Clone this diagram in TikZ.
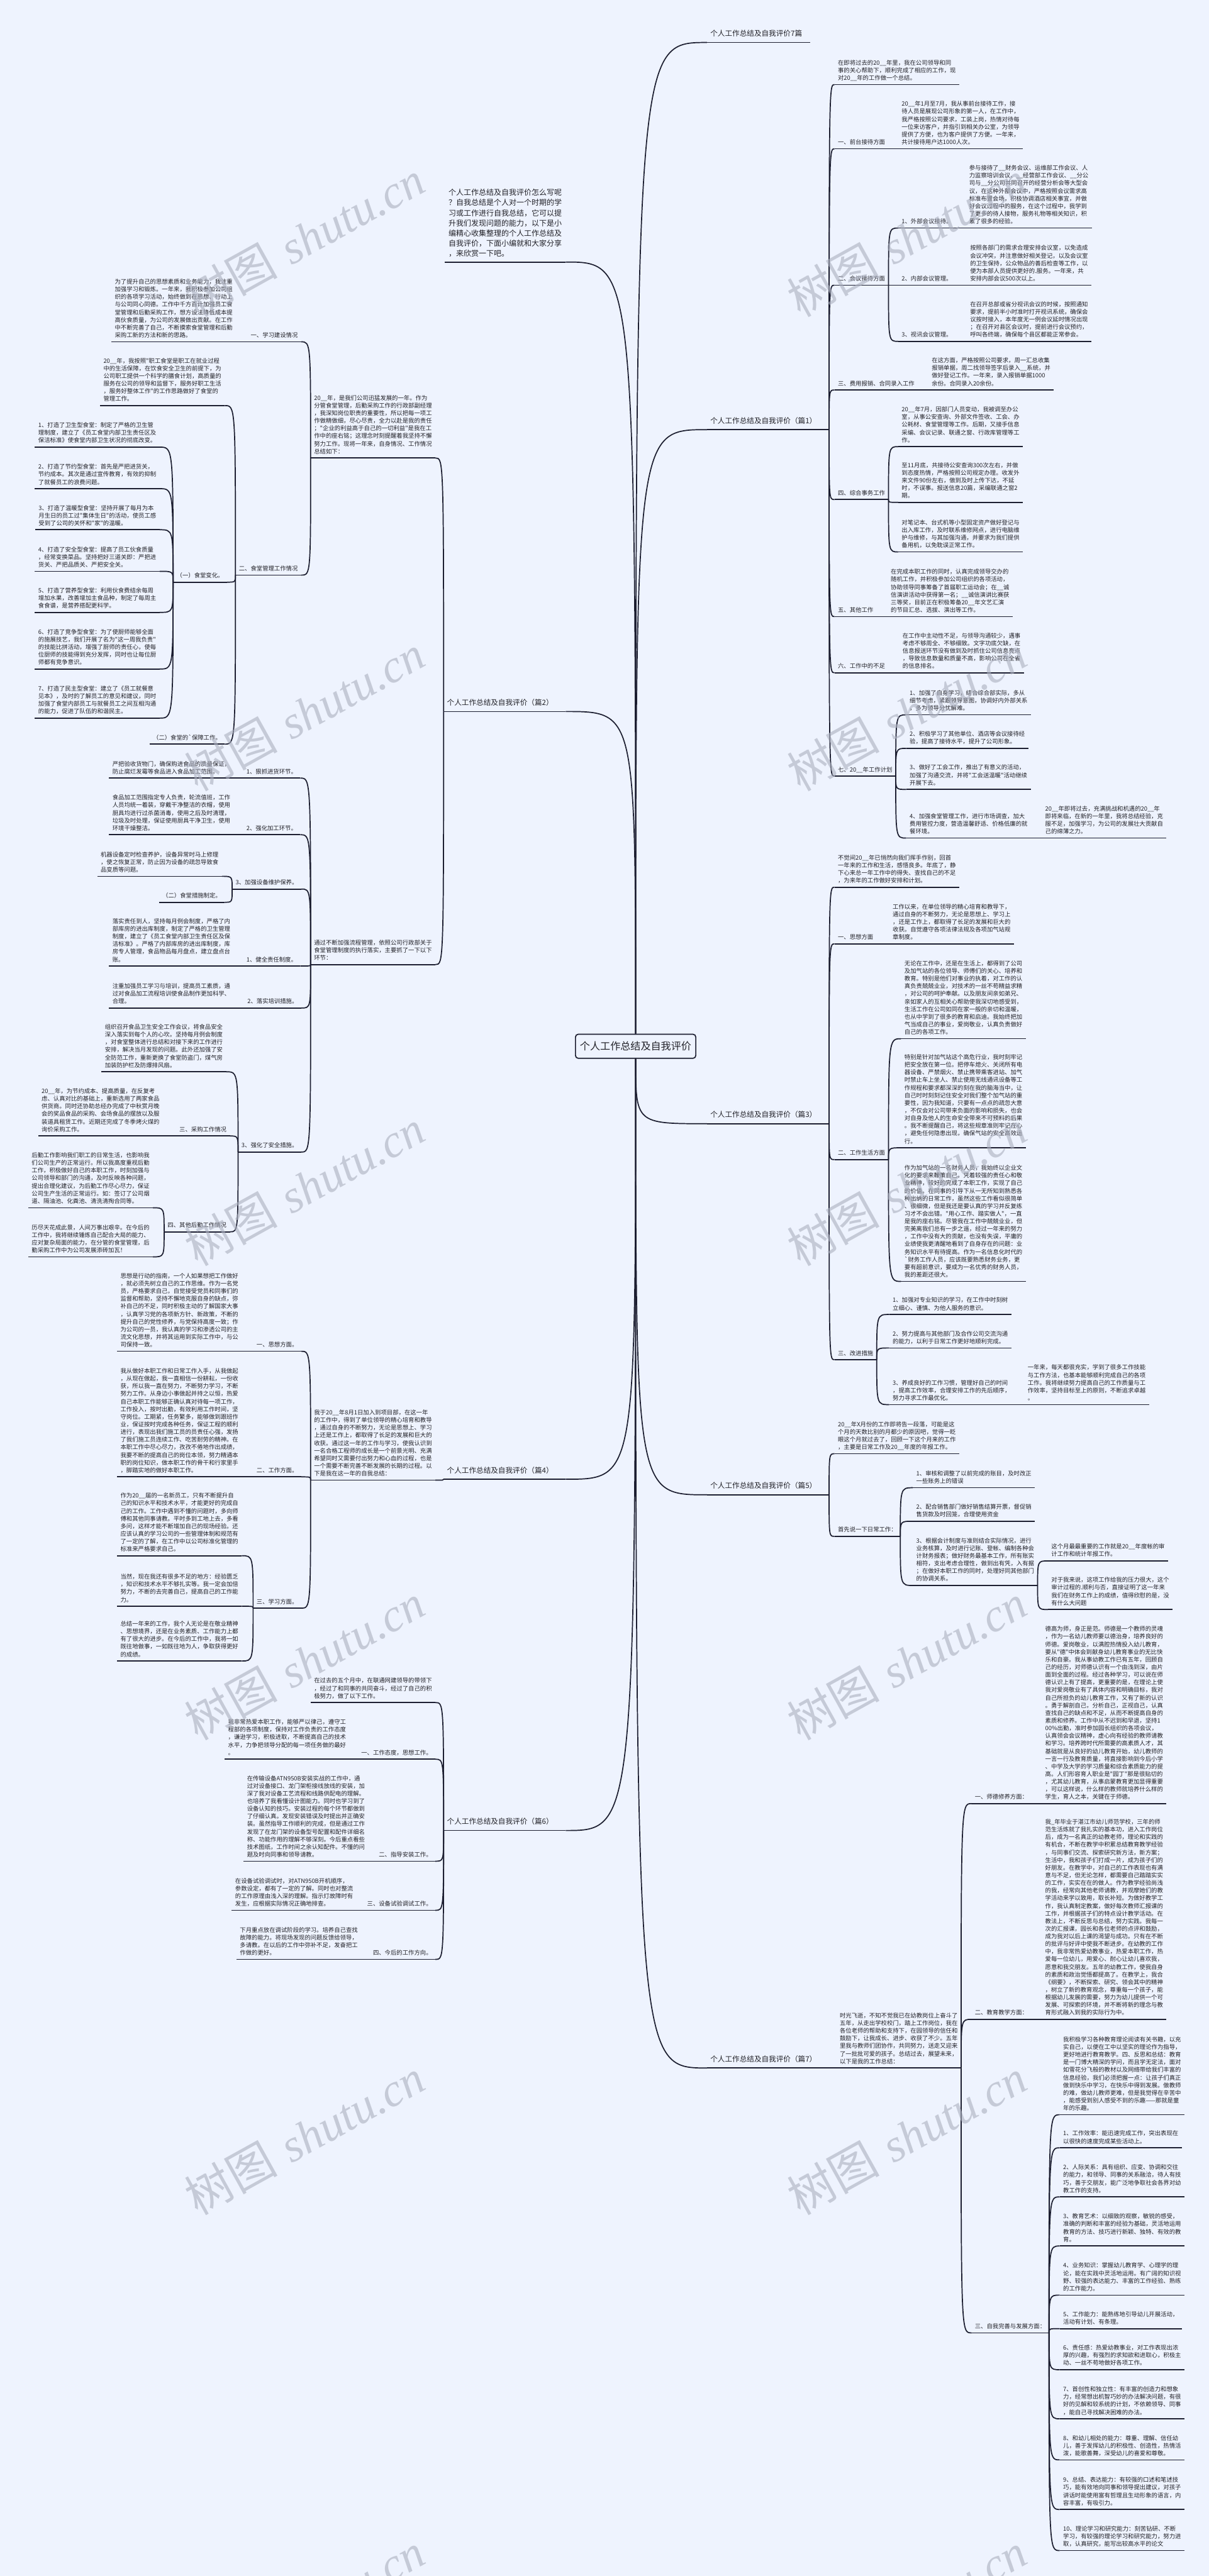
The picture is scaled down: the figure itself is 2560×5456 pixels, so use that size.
\documentclass[tikz,border=0pt]{standalone}
\usepackage{fontspec}
\newfontfamily\cjk{Noto Sans CJK SC}
\newfontfamily\wmlatin{Liberation Serif}
\definecolor{bgc}{RGB}{238,243,254}
\definecolor{linec}{RGB}{28,30,48}
\definecolor{txtc}{RGB}{34,34,40}
\definecolor{wmc}{RGB}{170,175,190}
\newcommand{\leaffont}{\cjk\fontsize{7.1pt}{9.2pt}\selectfont}
\newcommand{\branchfont}{\cjk\fontsize{8.8pt}{11pt}\selectfont}
\newcommand{\introfont}{\cjk\fontsize{9.1pt}{12.2pt}\selectfont}
\newcommand{\rootfont}{\cjk\fontsize{12.2pt}{14pt}\selectfont}
\newcommand{\wmfont}{\fontsize{56pt}{60pt}\selectfont}

\begin{document}
\begin{tikzpicture}[x=0.02cm, y=-0.02cm,
  lnk/.style={draw=linec, line width=1.3pt},
  uline/.style={append after command={(\tikzlastnode.south west) edge[lnk] (\tikzlastnode.south east)}},
  leaf/.style={uline, font=\leaffont, text=txtc, align=left, inner xsep=0.14cm, inner ysep=0.14cm, text depth=0.04cm},
  branch/.style={leaf, font=\branchfont, text width=4.88cm, inner ysep=0.22cm},
  intro/.style={leaf, font=\introfont, inner xsep=0.16cm, inner ysep=0.2cm},
  root/.style={draw=linec, line width=1.3pt, fill=bgc, rounded corners=0.12cm, font=\rootfont, text=txtc, inner xsep=0.19cm, minimum height=1.02cm},
  wm/.style={text=wmc, opacity=0.6, rotate=29, inner sep=0}]
  \fill[bgc] (0,0) rectangle (2560,5456);
  \useasboundingbox (0,0) rectangle (2560,5456);

  \node[root] (cn) at (1346,2216) {个人工作总结及自我评价};

  \node[branch, text width=4.08cm, anchor=south west] (tt) at (1497,90) {个人工作总结及自我评价7篇};
  \node[intro, anchor=south east] (intro) at (1198,555) {个人工作总结及自我评价怎么写呢\\？自我总结是个人对一个时期的学\\习或工作进行自我总结，它可以提\\升我们发现问题的能力，以下是小\\编精心收集整理的个人工作总结及\\自我评价，下面小编就和大家分享\\，来欣赏一下吧。};

  \node[branch, anchor=south west] (p1) at (1497,910) {个人工作总结及自我评价（篇1）};
  \node[branch, anchor=south east] (p2) at (1198,1507) {个人工作总结及自我评价（篇2）};
  \node[branch, anchor=south west] (p3) at (1497,2380) {个人工作总结及自我评价（篇3）};
  \node[branch, anchor=south east] (p4) at (1198,3133) {个人工作总结及自我评价（篇4）};
  \node[branch, anchor=south west] (p5) at (1497,3166) {个人工作总结及自我评价（篇5）};
  \node[branch, anchor=south east] (p6) at (1198,3877) {个人工作总结及自我评价（篇6）};
  \node[branch, anchor=south west] (p7) at (1497,4380) {个人工作总结及自我评价（篇7）};

  \node[leaf, anchor=south west] (p1a) at (1767,179) {在即将过去的20\_\_年里，我在公司领导和同\\事的关心帮助下，顺利完成了相应的工作，现\\对20\_\_年的工作做一个总结。};
  \node[leaf, anchor=south west] (p1b) at (1767,315) {一、前台接待方面};
  \node[leaf, anchor=south west] (p1b1) at (1902,315) {20\_\_年1月至7月，我从事前台接待工作，接\\待人员是展现公司形象的第一人，在工作中，\\我严格按照公司要求，工装上岗，热情对待每\\一位来访客户，并指引到相关办公室，为领导\\提供了方便，也为客户提供了方便。一年来，\\共计接待用户达1000人次。};
  \node[leaf, anchor=south west] (p1c) at (1767,604) {二、会议接待方面};
  \node[leaf, anchor=south west] (p1c1) at (1902,483) {1、外部会议接待。};
  \node[leaf, anchor=south west] (p1c1t) at (2045,483) {参与接待了\_\_财务会议、运维部工作会议、人\\力监察培训会议、\_\_经营部工作会议、\_\_分公\\司与\_\_分公司共同召开的经营分析会等大型会\\议，在这种外部会议中，严格按照会议需求高\\标准布置会场，积极协调酒店相关事宜，并做\\好会议过程中的服务，在这个过程中，我学到\\了更多的待人接物，服务礼物等相关知识，积\\累了很多的经验。};
  \node[leaf, anchor=south west] (p1c2) at (1902,604) {2、内部会议管理。};
  \node[leaf, anchor=south west] (p1c2t) at (2047,604) {按照各部门的需求合理安排会议室，以免造成\\会议冲突，并注意做好相关登记，以及会议室\\的卫生保持，公众物品的善后检查等工作，以\\便为本部人员提供更好的.服务。一年来，共\\安排内部会议500次以上。};
  \node[leaf, anchor=south west] (p1c3) at (1902,723) {3、视讯会议管理。};
  \node[leaf, anchor=south west] (p1c3t) at (2047,723) {在召开总部或省分视讯会议的时候，按照通知\\要求，提前半小时准时打开视讯系统，确保会\\议按时接入，本年度无一例会议延时情况出现\\；在召开对县区会议时，提前进行会议预约，\\呼叫各终端，确保每个县区都能正常参会。};
  \node[leaf, anchor=south west] (p1d) at (1767,826) {三、费用报销、合同录入工作};
  \node[leaf, anchor=south west] (p1dt) at (1966,826) {在这方面，严格按照公司要求，周一汇总收集\\报销单据，周二找领导签字后录入\_\_系统，并\\做好登记工作。一年来，录入报销单据1000\\余份。合同录入20余份。};
  \node[leaf, anchor=south west] (p1e) at (1767,1058) {四、综合事务工作};
  \node[leaf, anchor=south west] (p1e1) at (1902,946) {20\_\_年7月，因部门人员变动，我被调至办公\\室，从事公安查询、外部文件签收、工会、办\\公耗材、食堂管理等工作。后期，又接手信息\\采编、会议记录、联通之窗、行政库管理等工\\作。};
  \node[leaf, anchor=south west] (p1e2) at (1902,1064) {至11月底，共接待公安查询300次左右，并做\\到态度热情，严格按照公司规定办理。收发外\\来文件90份左右，做到及时上传下达，不延\\时，不误事。报送信息20篇，采编联通之窗2\\期。};
  \node[leaf, anchor=south west] (p1e3) at (1902,1169) {对笔记本、台式机等小型固定资产做好登记与\\出入库工作，及时联系维修网点，进行电脑维\\护与维修，与其加强沟通，并要求为我们提供\\备用机，以免耽误正常工作。};
  \node[leaf, anchor=south west] (p1f) at (1767,1306) {五、其他工作};
  \node[leaf, anchor=south west] (p1ft) at (1879,1306) {在完成本职工作的同时，认真完成领导交办的\\随机工作，并积极参加公司组织的各项活动，\\协助领导同事筹备了首届职工运动会；在\_\_诚\\信演讲活动中获得第一名；\_\_诚信演讲比赛获\\三等奖，目前正在积极筹备20\_\_年文艺汇演\\的节目汇总、选拔、演出等工作。};
  \node[leaf, anchor=south west] (p1g) at (1767,1425) {六、工作中的不足};
  \node[leaf, anchor=south west] (p1gt) at (1904,1425) {在工作中主动性不足，与领导沟通较少，遇事\\考虑不够周全、不够细致。文字功底欠缺，在\\信息报送环节没有做到及时抓住公司信息亮点\\，导致信息数量和质量不高，影响公司在全省\\的信息排名。};
  \node[leaf, anchor=south west] (p1h) at (1767,1644) {七、20\_\_年工作计划};
  \node[leaf, anchor=south west] (p1h1) at (1919,1514) {1、加强了自身学习，结合综合部实际，多从\\细节考虑，紧跟领导意图，协调好内外部关系\\，多为领导分忧解难。};
  \node[leaf, anchor=south west] (p1h2) at (1919,1585) {2、积极学习了其他单位、酒店等会议接待经\\验，提高了接待水平，提升了公司形象。};
  \node[leaf, anchor=south west] (p1h3) at (1919,1672) {3、做好了工会工作，推出了有意义的活动，\\加强了沟通交流，并将"工会送温暖"活动继续\\开展下去。};
  \node[leaf, anchor=south west] (p1h4) at (1919,1775) {4、加强食堂管理工作，进行市场调查，加大\\费用管控力度，营造温馨舒适、价格低廉的就\\餐环境。};
  \node[leaf, anchor=south west] (p1h4t) at (2206,1775) {20\_\_年即将过去，充满挑战和机遇的20\_\_年\\即将来临，在新的一年里，我将总结经验，克\\服不足，加强学习，为公司的发展壮大贡献自\\己的绵薄之力。};

  \node[leaf, anchor=south west] (p3a) at (1767,1879) {不觉间20\_\_年已悄然向我们挥手作别，回首\\一年来的工作和生活，感悟良多。年底了，静\\下心来总一年工作中的得失、查找自己的不足\\，为来年的工作做好安排和计划。};
  \node[leaf, anchor=south west] (p3b) at (1767,1999) {一、思想方面};
  \node[leaf, anchor=south west] (p3bt) at (1883,1999) {工作以来，在单位领导的精心培育和教导下，\\通过自身的不断努力，无论是思想上、学习上\\，还是工作上，都取得了长足的发展和巨大的\\收获。自觉遵守各项法律法规及各项加气站规\\章制度。};
  \node[leaf, anchor=south west] (p3c) at (1767,2456) {二、工作生活方面};
  \node[leaf, anchor=south west] (p3c1) at (1908,2200) {无论在工作中，还是在生活上，都得到了公司\\及加气站的各位领导、师傅们的关心、培养和\\教育。特别是他们对事业的执着，对工作的认\\真负责兢兢业业，对技术的一丝不苟精益求精\\，对公司的呵护奉献。以及朋友间亲如弟兄、\\亲如家人的互相关心帮助使我深切地感受到，\\生活工作在公司如同在家一般的亲切和温暖，\\也从中学到了很多的教育和启迪。我始终把加\\气当成自己的事业，爱岗敬业，认真负责做好\\自己的各项工作。};
  \node[leaf, anchor=south west] (p3c2) at (1908,2431) {特别是针对加气站这个高危行业，我时刻牢记\\把安全放在第一位。把停车熄火、关闭所有电\\器设备、严禁烟火、禁止携带乘客进站、加气\\时禁止车上坐人、禁止使用无线通讯设备等工\\作规程和要求都深深的刻在我的脑海当中，让\\自己时时刻刻记住安全对我们整个加气站的重\\要性，因为我知道，只要有一点点的疏忽大意\\，不仅会对公司带来负面的影响和损失，也会\\对自身及他人的生命安全带来不可预料的后果\\。我不断提醒自己，将这些规章准则牢记在心\\，避免任何隐患出现，确保气站的安全高效运\\行。};
  \node[leaf, anchor=south west] (p3c3) at (1908,2714) {作为加气站的一名财务人员，我始终以企业文\\化的要求来鞭策自己，凭着较强的责任心和敬\\业精神，较好的完成了本职工作，实现了自己\\的价值。在同事的引导下从一无所知到熟悉各\\种出纳的日常工作，虽然这些工作看似很简单\\、很细微，但是我还是要认真的学习并反复练\\习才不会出错。"用心工作、踏实做人"，一直\\是我的座右铭。尽管我在工作中兢兢业业，但\\完美离我们总有一步之遥，经过一年来的努力\\，工作中没有大的贡献，也没有失误，平庸的\\业绩使我更清醒地看到了自身存在的问题：业\\务知识水平有待提高。作为一名信息化时代的\\\textasciigrave 财务工作人员，应该既要熟悉财务业务，更\\要有超前意识，要成为一名优秀的财务人员，\\我的差距还很大。};
  \node[leaf, anchor=south west] (p3d) at (1767,2880) {三、改进措施};
  \node[leaf, anchor=south west] (p3d1) at (1883,2784) {1、加强对专业知识的学习，在工作中时刻树\\立细心、谨慎、为他人服务的意识。};
  \node[leaf, anchor=south west] (p3d2) at (1883,2855) {2、努力提高与其他部门及合作公司交流沟通\\的能力，以利于日常工作更好地顺利完成。};
  \node[leaf, anchor=south west] (p3d3) at (1883,2975) {3、养成良好的工作习惯，管理好自己的时间\\，提高工作效率，合理安排工作的先后顺序，\\努力寻求工作最优化。};
  \node[leaf, anchor=south west] (p3d3t) at (2169,2975) {一年来，每天都很充实，学到了很多工作技能\\与工作方法，也基本能够顺利完成自己的各项\\工作。我将继续努力提高自己的工作质量与工\\作效率，坚持目标至上的原则，不断追求卓越\\。};

  \node[leaf, anchor=south west] (p5a) at (1767,3079) {20\_\_年X月份的工作即将告一段落，可能是这\\个月的天数比别的月都少的原因吧，觉得一眨\\眼这个月就过去了，回顾一下这个月来的工作\\，主要是日常工作及20\_\_年度的年报工作。};
  \node[leaf, anchor=south west] (p5b) at (1767,3254) {首先说一下日常工作：};
  \node[leaf, anchor=south west] (p5b1) at (1933,3151) {1、审核和调整了以前完成的账目，及时改正\\一些账务上的错误};
  \node[leaf, anchor=south west] (p5b2) at (1933,3222) {2、配合销售部门做好销售结算开票，督促销\\售货款及时回笼，合理使用资金};
  \node[leaf, anchor=south west] (p5b3) at (1933,3358) {3、根据会计制度与准则结合实际情况，进行\\业务核算，及时进行记账、登帐、编制各种会\\计财务报表；做好财务最基本工作，所有账实\\相符，支出考虑合理性，做到出有凭，入有据\\；在做好本职工作的同时，处理好同其他部门\\的协调关系。};
  \node[leaf, anchor=south west] (p5b3a) at (2219,3306) {这个月最最重要的工作就是20\_\_年度帐的审\\计工作和统计年报工作。};
  \node[leaf, anchor=south west] (p5b3b) at (2219,3409) {对于我来说，这项工作给我的压力很大，这个\\审计过程的.顺利与否，直接证明了这一年来\\我们在财务工作上的成绩，值得欣慰的是，没\\有什么大问题};

  \node[leaf, anchor=south west] (p7a) at (1771,4380) {时光飞逝，不知不觉我已在幼教岗位上奋斗了\\五年，从走出学校校门，踏上工作岗位，我在\\各位老师的帮助和支持下，在园领导的信任和\\鼓励下，让我成长、进步、收获了不少。五年\\里我与教师们团协作，共同努力，送走又迎来\\了一批批可爱的孩子。总结过去，展望未来，\\以下是我的工作总结：};
  \node[leaf, anchor=south west] (p7b) at (2057,3820) {一、师德修养方面：};
  \node[leaf, anchor=south west] (p7bt) at (2206,3820) {德高为师，身正是范。师德是一个教师的灵魂\\，作为一名幼儿教师要以德治身，培养良好的\\师德。爱岗敬业，以满腔热情投入幼儿教育，\\要从"德"中体会到献身幼儿教育事业的无比快\\乐和自豪。我从事幼教工作已有五年，回顾自\\己的经历，对师德认识有一个由浅到深，由片\\面到全面的过程。经过各种学习，可以说在师\\德认识上有了提高，更重要的是，在理论上使\\我对爱岗敬业有了具体内容和明确目标，我对\\自己所担负的幼儿教育工作，又有了新的认识\\。勇于解剖自己，分析自己，正视自己，认真\\查找自己的缺点和不足，从而不断提高自身的\\素质和修养。工作中从不迟到和早退，坚持1\\00\%出勤，准时参加园长组织的各项会议，\\认真领会会议精神，虚心向有经验的教师请教\\和学习。培养跨时代所需要的高素质人才，其\\基础就是从良好的幼儿教育开始，幼儿教师的\\一言一行及教育质量，将直接影响到今后小学\\、中学及大学的学习质量和综合素质能力的提\\高。人们形容育人职业是"园丁"那是很贴切的\\，尤其幼儿教育，从事启蒙教育更加显得重要\\，可以这样说，什么样的教师就培养什么样的\\学生，育人之本，关键在于师德。};
  \node[leaf, anchor=south west] (p7c) at (2057,4277) {二、教育教学方面：};
  \node[leaf, anchor=south west] (p7ct) at (2206,4277) {我\_年毕业于湛江市幼儿师范学校，三年的师\\范生活炼就了我扎实的基本功，进入工作岗位\\后，成为一名真正的幼教老师，理论和实践的\\有机合，不断在教学中积累总结教育教学经验\\，与同事们交流、探索研究新方法，新方案；\\生活中，我和孩子们打成一片，成为孩子们的\\好朋友。在教学中，对自己的工作表现也有满\\意与不足，但无论怎样，都需要自己踏踏实实\\的工作，实实在在的做人。作为教学经验尚浅\\的我，经常向其他老师请教，并观摩她们的教\\学活动来学以致用，取长补短。为做好教学工\\作，我认真制定教案，做好每次教师汇报课的\\工作，并根据孩子们的特点设计教学活动。在\\教法上，不断反思与总结，努力实践。我每一\\次的汇报课，园长和各位老师的点评和鼓励，\\成为我对以后上课的渴望与成功。只有在不断\\的批评与好评中使我不断进步。在幼教的工作\\中，我非常热爱幼教事业，热爱本职工作，热\\爱每一位幼儿，用爱心、耐心让幼儿喜欢我，\\愿意和我交朋友。五年的幼教工作，使我自身\\的素质和政治觉悟都提高了。在教学上，我合\\《纲要》，不断探索、研究、领会其中的精神\\，树立了新的教育观念，尊重每一个孩子，能\\根据幼儿发展的需要，努力为幼儿提供一个可\\发展、可探索的环境，并不断将新的理念与教\\育形式融入到我的实际行为中。};
  \node[leaf, anchor=south west] (p7d) at (2057,4941) {三、自我完善与发展方面：};
  \node[leaf, anchor=south west] (p7d0) at (2244,4479) {我积极学习各种教育理论阅读有关书籍，以充\\实自己，以便在工中以坚实的理论作为指导，\\更好地进行教育教学。四、反思和总结：教育\\是一门博大精深的学问，而且学无定法，面对\\如雪花分飞般的教材以及网络带给我们丰富的\\信息经验，我们必须把握一点：让孩子们真正\\做到快乐中学习，在快乐中得到发展。做教师\\的难，做幼儿教师更难，但是我觉得在辛苦中\\，能感受到别人感受不到的乐趣——那就是童\\年的乐趣。};
  \node[leaf, anchor=south west] (p7d1) at (2244,4549) {1、工作效率：能迅速完成工作，突出表现在\\以很快的速度完成某些活动上。};
  \node[leaf, anchor=south west] (p7d2) at (2244,4653) {2、人际关系：具有组织、应变、协调和交往\\的能力，和领导、同事的关系融洽，待人有技\\巧，善于交朋友，能广泛地争取社会各界对幼\\教工作的支持。};
  \node[leaf, anchor=south west] (p7d3) at (2244,4757) {3、教育艺术：以细致的观察，敏锐的感受，\\准确的判断和丰富的经验为基础，灵活地运用\\教育的方法、技巧进行新颖、独特、有效的教\\育。};
  \node[leaf, anchor=south west] (p7d4) at (2244,4861) {4、业务知识：掌握幼儿教育学、心理学的理\\论，能在实践中灵活地运用。有广阔的知识视\\野、较强的表达能力、丰富的工作经验、熟练\\的工作能力。};
  \node[leaf, anchor=south west] (p7d5) at (2244,4932) {5、工作能力：能熟练地引导幼儿开展活动，\\活动有计划、有条理。};
  \node[leaf, anchor=south west] (p7d6) at (2244,5019) {6、责任感：热爱幼教事业，对工作表现出浓\\厚的兴趣，有强烈的求知欲和进取心，积极主\\动、一丝不苟地做好各项工作。};
  \node[leaf, anchor=south west] (p7d7) at (2244,5123) {7、首创性和独立性：有丰富的创造力和想象\\力，经常想出机智巧妙的办法解决问题，有很\\好的见解和较系统的计划，不依赖领导、同事\\，能自己寻找解决困难的办法。};
  \node[leaf, anchor=south west] (p7d8) at (2244,5210) {8、和幼儿相处的能力：尊重、理解、信任幼\\儿，善于发挥幼儿的积极性、创造性，热情活\\泼，能歌善舞，深受幼儿的喜爱和尊敬。};
  \node[leaf, anchor=south west] (p7d9) at (2244,5315) {9、总结、表达能力：有较强的口述和笔述技\\巧，能有效地向同事和领导提出建议，对孩子\\讲话时能使用富有哲理且生动形象的语言，内\\容丰富，有吸引力。};
  \node[leaf, anchor=south west] (p7d10) at (2244,5402) {10、理论学习和研究能力：刻苦钻研、不断\\学习，有较强的理论学习和研究能力，努力进\\取，认真研究，能写出较高水平的论文};

  \node[leaf, anchor=south east] (p2a) at (922,970) {20\_\_年，是我们公司迅猛发展的一年。作为\\分管食堂管理，后勤采购工作的行政部副经理\\，我深知岗位职责的重要性，所以把每一项工\\作做精做细，尽心尽责，全力以赴是我的责任\\；"企业的利益高于自己的一切利益"是我在工\\作中的座右铭；这理念时刻提醒着我坚持不懈\\努力工作。现将一年来，自身情况、工作情况\\总结如下：};
  \node[leaf, anchor=south east] (p2a1) at (638,724) {一、学习建设情况};
  \node[leaf, anchor=south east] (p2a1t) at (500,724) {为了提升自己的思想素质和业务能力，我注重\\加强学习和锻炼。一年来，我积极参加公司组\\织的各项学习活动，始终做到在思想、行动上\\与公司同心同德。工作中千方百计加强员工食\\堂管理和后勤采购工作，想方设法降低成本提\\高伙食质量，为公司的发展做出贡献。在工作\\中不断完善了自己，不断摸索食堂管理和后勤\\采购工新的方法和新的思路。};
  \node[leaf, anchor=south east] (p2a2) at (638,1218) {二、食堂管理工作情况};
  \node[leaf, anchor=south east] (p2a2a) at (476,859) {20\_\_年，我按照"职工食堂是职工在就业过程\\中的生活保障，在饮食安全卫生的前提下，为\\公司职工提供一个科学的膳食计划，高质量的\\服务在公司的领导和监督下，服务好职工生活\\，服务好整体工作"的工作思路做好了食堂的\\管理工作。};
  \node[leaf, anchor=south east] (p2a2b) at (481,1233) {（一）食堂变化。};
  \node[leaf, anchor=south east] (p2a2b1) at (338,947) {1、打造了卫生型食堂：制定了严格的卫生管\\理制度，建立了《员工食堂内部卫生责任区及\\保洁标准》使食堂内部卫生状况的彻底改变。};
  \node[leaf, anchor=south east] (p2a2b2) at (338,1035) {2、打造了节约型食堂：首先是严把进货关，\\节约成本。其次是通过宣传教育，有效的抑制\\了就餐员工的浪费问题。};
  \node[leaf, anchor=south east] (p2a2b3) at (338,1122) {3、打造了温暖型食堂：坚持开展了每月为本\\月生日的员工过"集体生日"的活动，使员工感\\受到了公司的关怀和"家"的温暖。};
  \node[leaf, anchor=south east] (p2a2b4) at (338,1210) {4、打造了安全型食堂：提高了员工伙食质量\\，经常变换菜品。坚持把好三道关即：严把进\\货关、严把品质关、严把安全关。};
  \node[leaf, anchor=south east] (p2a2b5) at (338,1297) {5、打造了营养型食堂：利用伙食费结余每周\\增加水果，改善增加主食品种，制定了每周主\\食食谱，是营养搭配更科学。};
  \node[leaf, anchor=south east] (p2a2b6) at (338,1417) {6、打造了竞争型食堂：为了使厨师能够全面\\的施展技艺，我们开展了名为"这一周我负责"\\的技能比拼活动，增强了厨师的责任心，使每\\位厨师的技能得到充分发挥，同时也让每位厨\\师都有竞争意识。};
  \node[leaf, anchor=south east] (p2a2b7) at (338,1521) {7、打造了民主型食堂：建立了《员工就餐意\\见本》，及时的了解员工的意见和建议，同时\\加强了食堂内部员工与就餐员工之间互相沟通\\的能力，促进了队伍的和谐民主。};
  \node[leaf, anchor=south east] (p2a2c) at (476,1576) {（二）食堂的\textasciigrave 保障工作。};

  \node[leaf, anchor=south east] (p2b) at (922,2043) {通过不断加强流程管理，依照公司行政部关于\\食堂管理制度的执行落实，主要抓了一下以下\\环节：};
  \node[leaf, anchor=south east] (p2b1) at (636,1648) {1、狠抓进货环节。};
  \node[leaf, anchor=south east] (p2b1t) at (495,1648) {严把验收货物门，确保购进食品的质量保证，\\防止腐烂发霉等食品进入食品加工范围。};
  \node[leaf, anchor=south east] (p2b2) at (636,1768) {2、强化加工环节。};
  \node[leaf, anchor=south east] (p2b2t) at (495,1768) {食品加工范围指定专人负责，轮流值班，工作\\人员均统一着装，穿戴干净整洁的衣帽，使用\\厨具均进行过杀菌消毒，使用之后及时清理，\\垃圾及时处理，保证使用厨具干净卫生，使用\\环境干燥整洁。};
  \node[leaf, anchor=south east] (p2b3) at (638,1883) {3、加强设备维护保养。};
  \node[leaf, anchor=south east] (p2b3a) at (470,1856) {机器设备定时检查养护，设备异常时马上修理\\，使之恢复正常，防止因为设备的疏忽导致食\\品变质等问题。};
  \node[leaf, anchor=south east] (p2b3b) at (476,1911) {（二）食堂措施制定。};
  \node[leaf, anchor=south east] (p2b4) at (636,2046) {1、健全责任制度。};
  \node[leaf, anchor=south east] (p2b4t) at (495,2046) {落实责任到人，坚持每月例会制度，严格了内\\部库房的进出库制度，制定了严格的卫生管理\\制度，建立了《员工食堂内部卫生责任区及保\\洁标准》。严格了内部库房的进出库制度，库\\房专人管理，食品物品每月盘点，建立盘点台\\账。};
  \node[leaf, anchor=south east] (p2b5) at (638,2135) {2、落实培训措施。};
  \node[leaf, anchor=south east] (p2b5t) at (495,2135) {注重加强员工学习与培训，提高员工素质，通\\过对食品加工流程培训使食品制作更加科学、\\合理。};
  \node[leaf, anchor=south east] (p2b6) at (638,2440) {3、强化了安全措施。};
  \node[leaf, anchor=south east] (p2b6a) at (479,2270) {组织召开食品卫生安全工作会议，将食品安全\\深入落实到每个人的心坎。坚持每月例会制度\\，对食堂整体进行总结和对接下来的工作进行\\安排，解决当月发现的问题。此外还加强了安\\全防范工作，重新更换了食堂防盗门，煤气房\\加装防护栏及防爆排风扇。};
  \node[leaf, anchor=south east] (p2b6b) at (487,2406) {三、采购工作情况};
  \node[leaf, anchor=south east] (p2b6bt) at (345,2406) {20\_\_年，为节约成本、提高质量，在反复考\\虑、认真对比的基础上，重新选用了两家食品\\供货商。同时还协助总经办完成了中秋赏月晚\\会的奖品食品的采购、会场食品的摆放以及服\\装道具租赁工作。近期还完成了冬季烤火煤的\\询价采购工作。};
  \node[leaf, anchor=south east] (p2b6c) at (487,2609) {四、其他后勤工作情况};
  \node[leaf, anchor=south east] (p2b6c1) at (324,2558) {后勤工作影响我们职工的日常生活，也影响我\\们公司生产的正常运行。所以我高度重视后勤\\工作，积极做好自己的本职工作，时刻加强与\\公司领导和部门的沟通，及时反映各种问题，\\提出合理化建议，为后勤工作尽心尽力，保证\\公司生产生活的正常运行。如：签订了公司烟\\道、隔油池、化粪池、清洗清掏合同等。};
  \node[leaf, anchor=south east] (p2b6c2) at (324,2662) {历尽天花成此景，人间万事出艰辛。在今后的\\工作中，我将继续锤炼自己配合大局的能力、\\应对复杂局面的能力，在分管的食堂管理，后\\勤采购工作中为公司发展添砖加瓦！};

  \node[leaf, anchor=south east] (p4a) at (922,3135) {我于20\_\_年8月1日加入到项目部，在这一年\\的工作中，得到了单位领导的精心培育和教导\\，通过自身的不断努力，无论是思想上、学习\\上还是工作上，都取得了长足的发展和巨大的\\收获。通过这一年的工作与学习，使我认识到\\一名合格工程师的成长是一个前景光明、充满\\希望同时又需要付出努力和心血的过程，也是\\一个需要不断完善不断发展的长期的过程。以\\下是我在这一年的自我总结：};
  \node[leaf, anchor=south east] (p4a1) at (638,2862) {一、思想方面。};
  \node[leaf, anchor=south east] (p4a1t) at (512,2862) {思想是行动的指南，一个人如果想把工作做好\\，就必须先树立自己的工作思维。作为一名党\\员，严格要求自己，自觉接受党员和同事们的\\监督和帮助，坚持不懈地克服自身的缺点，弥\\补自己的不足，同时积极主动的了解国家大事\\，认真学习党的各项新方针、新政策，不断的\\提升自己的党性修养，与党保持高度一致；作\\为公司的一员，我认真的学习和渗透公司的主\\流文化思想，并将其运用到实际工作中，与公\\司保持一致。};
  \node[leaf, anchor=south east] (p4a2) at (638,3128) {二、工作方面。};
  \node[leaf, anchor=south east] (p4a2t) at (512,3128) {我从做好本职工作和日常工作入手，从我做起\\，从现在做起，我一直相信一份耕耘，一份收\\获，所以我一直在努力，不断努力学习，不断\\努力工作。从身边小事做起并持之以恒，热爱\\自己本职工作能够正确认真对待每一项工作，\\工作投入，按时出勤，有效利用工作时间，坚\\守岗位。工期紧，任务繁多，能够做到跟班作\\业，保证按时完成各种任务，保证工程的顺利\\进行，表现出我们施工员的员责任心强，发扬\\了我们施工员连续工作、吃苦耐劳的精神。在\\本职工作中尽心尽力，孜孜不倦地作出成绩，\\我要不断的提高自己的岗位本领，努力精通本\\职的岗位知识，做本职工作的骨干和行家里手\\，脚踏实地的做好本职工作。};
  \node[leaf, anchor=south east] (p4a3) at (638,3406) {三、学习方面。};
  \node[leaf, anchor=south east] (p4a3a) at (512,3295) {作为20\_\_届的一名新员工，只有不断提升自\\己的知识水平和技术水平，才能更好的完成自\\己的工作。工作中遇到不懂的问题时，多向师\\傅和其他同事请教。平时多到工地上去，多看\\多问，这样才能不断增加自己的现场经验。还\\应该认真的学习公司的一些管理体制和规范有\\了一定的了解，在工作中以公司标准化管理的\\标准来严格要求自己。};
  \node[leaf, anchor=south east] (p4a3b) at (512,3402) {当然，现在我还有很多不足的地方：经验匮乏\\，知识和技术水平不够扎实等。我一定会加倍\\努力，不断的去完善自己，提高自己的工作能\\力。};
  \node[leaf, anchor=south east] (p4a3c) at (512,3518) {总结一年来的工作，我个人无论是在敬业精神\\、思想境界，还是在业务素质、工作能力上都\\有了很大的进步。在今后的工作中，我将一如\\既往地做事，一如既往地为人，争取获得更好\\的成绩。};

  \node[leaf, anchor=south east] (p6a) at (922,3606) {在过去的五个月中，在联通网建领导的带领下\\，经过了和同事的共同奋斗，经过了自己的积\\极努力，做了以下工作。};
  \node[leaf, anchor=south east] (p6b) at (922,3726) {一、工作态度，思想工作。};
  \node[leaf, anchor=south east] (p6bt) at (740,3726) {我非常热爱本职工作，能够严以律己，遵守工\\程部的各项制度，保持对工作负责的工作态度\\，谦逊学习，积极进取，不断提高自己的技术\\水平，力争把领导分配的每一项任务做的最好\\。};
  \node[leaf, anchor=south east] (p6c) at (922,3942) {二、指导安装工作。};
  \node[leaf, anchor=south east] (p6ct) at (780,3942) {在传输设备ATN950B安装实战的工作中，通\\过对设备接口、龙门架柜接线放线的安装，加\\深了我对设备工艺流程和线路供配电的理解。\\也培养了我看懂设计图能力。同时也学习到了\\设备认知的技巧。安装过程的每个环节都做到\\了仔细认真。发现安装错误及时提出并正确安\\装。虽然指导工作顺利的完成，但是通过工作\\发现了在龙门架的设备型号配置和配件详细名\\称、功能作用的理解不够深刻。今后重点看些\\技术图纸，工作时间之余认知配件。不懂的问\\题及时向同事和领导请教。};
  \node[leaf, anchor=south east] (p6d) at (922,4046) {三、设备试验调试工作。};
  \node[leaf, anchor=south east] (p6dt) at (755,4046) {在设备试验调试时，对ATN950B开机顺序，\\参数设定，都有了一定的了解。同时也对整流\\的工作原理由浅入深的理解。指示灯故障时有\\发生，应根据实际情况正确地排查。};
  \node[leaf, anchor=south east] (p6e) at (922,4150) {四、今后的工作方向。};
  \node[leaf, anchor=south east] (p6et) at (765,4150) {下月重点放在调试阶段的学习。培养自己查找\\故障的能力。将现场发现的问题反馈给领导，\\多请教。在以后的工作中弥补不足，发奋把工\\作做的更好。};

  \foreach \b in {tt,p1}
    \draw[lnk] (cn.north) .. controls (cn.north |- \b.south west) .. (\b.south west);
  \foreach \b in {intro,p2}
    \draw[lnk] (cn.north) .. controls (cn.north |- \b.south east) .. (\b.south east);
  \foreach \b in {p3,p5,p7}
    \draw[lnk] (cn.south) .. controls (cn.south |- \b.south west) .. (\b.south west);
  \foreach \b in {p4,p6}
    \draw[lnk] (cn.south) .. controls (cn.south |- \b.south east) .. (\b.south east);

  \foreach \a/\b in {p1/p1a,p1/p1b,p1/p1c,p1/p1d,p1/p1e,p1/p1f,p1/p1g,p1/p1h,
      p1b/p1b1,p1c/p1c1,p1c/p1c2,p1c/p1c3,p1c1/p1c1t,p1c2/p1c2t,p1c3/p1c3t,p1d/p1dt,
      p1e/p1e1,p1e/p1e2,p1e/p1e3,p1f/p1ft,p1g/p1gt,p1h/p1h1,p1h/p1h2,p1h/p1h3,p1h/p1h4,p1h4/p1h4t,
      p3/p3a,p3/p3b,p3/p3c,p3/p3d,p3b/p3bt,p3c/p3c1,p3c/p3c2,p3c/p3c3,p3d/p3d1,p3d/p3d2,p3d/p3d3,p3d3/p3d3t,
      p5/p5a,p5/p5b,p5b/p5b1,p5b/p5b2,p5b/p5b3,p5b3/p5b3a,p5b3/p5b3b,
      p7/p7a,p7a/p7b,p7a/p7c,p7a/p7d,p7b/p7bt,p7c/p7ct,p7d/p7d0,p7d/p7d1,p7d/p7d2,p7d/p7d3,
      p7d/p7d4,p7d/p7d5,p7d/p7d6,p7d/p7d7,p7d/p7d8,p7d/p7d9,p7d/p7d10}
    \draw[lnk] (\a.south east) .. controls (\a.south east |- \b.south west) .. (\b.south west);

  \foreach \a/\b in {p2/p2a,p2/p2b,p2a/p2a1,p2a/p2a2,p2a1/p2a1t,p2a2/p2a2a,p2a2/p2a2b,p2a2/p2a2c,
      p2a2b/p2a2b1,p2a2b/p2a2b2,p2a2b/p2a2b3,p2a2b/p2a2b4,p2a2b/p2a2b5,p2a2b/p2a2b6,p2a2b/p2a2b7,
      p2b/p2b1,p2b/p2b2,p2b/p2b3,p2b/p2b4,p2b/p2b5,p2b/p2b6,p2b1/p2b1t,p2b2/p2b2t,p2b3/p2b3a,p2b3/p2b3b,
      p2b4/p2b4t,p2b5/p2b5t,p2b6/p2b6a,p2b6/p2b6b,p2b6/p2b6c,p2b6b/p2b6bt,p2b6c/p2b6c1,p2b6c/p2b6c2,
      p4/p4a,p4a/p4a1,p4a/p4a2,p4a/p4a3,p4a1/p4a1t,p4a2/p4a2t,p4a3/p4a3a,p4a3/p4a3b,p4a3/p4a3c,
      p6/p6a,p6/p6b,p6/p6c,p6/p6d,p6/p6e,p6b/p6bt,p6c/p6ct,p6d/p6dt,p6e/p6et}
    \draw[lnk] (\a.south west) .. controls (\a.south west |- \b.south east) .. (\b.south east);

  \foreach \y in {505,1510,2515,3520,4525,5530} {
    \node[wm] at (645,\y) {\wmfont{\cjk 树图} {\wmlatin\itshape shutu.cn}};
    \node[wm] at (1920,\y) {\wmfont{\cjk 树图} {\wmlatin\itshape shutu.cn}};
  }
\end{tikzpicture}
\end{document}
